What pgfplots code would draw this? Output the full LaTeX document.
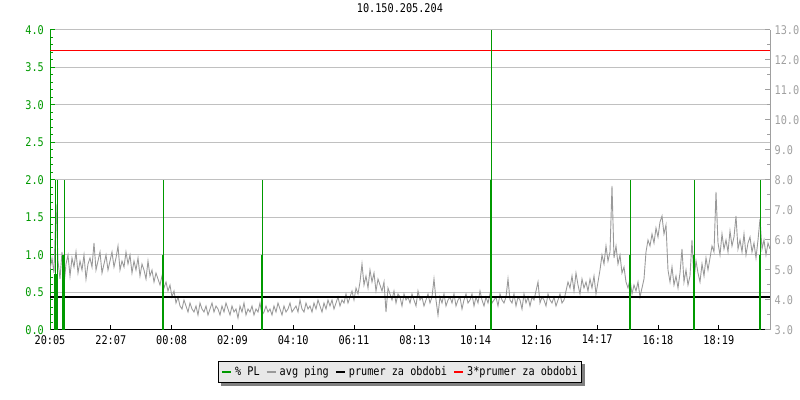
\documentclass[border=0pt]{standalone}
\usepackage{fontspec}
\setmainfont{DejaVu Sans Mono}[FakeStretch=0.85]
\usepackage{pgfplots}
\pgfplotsset{compat=1.18}
\usetikzlibrary{backgrounds}
\definecolor{plgreen}{HTML}{009900}
\definecolor{pinggray}{HTML}{999999}
\definecolor{gridgray}{HTML}{C0C0C0}
\definecolor{rgray}{HTML}{A0A0A0}
\definecolor{legfill}{HTML}{E8E8E8}

\begin{document}
\fontsize{12bp}{14bp}\selectfont
\begin{tikzpicture}
\useasboundingbox (0,0) rectangle (800bp,400bp);

\pgfplotsset{
  base/.style={at={(50bp,70bp)}, anchor=south west, width=720bp, height=300bp,
    scale only axis, xmin=0, xmax=720,
    /pgf/number format/assume math mode=true,
    major tick length=5bp, minor tick length=3bp, tick align=inside},
}

% left axis: % PL, grid, time ticks
\begin{axis}[base, ymin=0, ymax=4,
  axis x line*=bottom, axis y line*=left,
  x axis line style={-, black, line width=1bp},
  y axis line style={-, plgreen, line width=1bp},
  xtick={0,60.8,121.6,182.4,243.2,304,364.8,425.6,486.4,547.2,608,668.8},
  xticklabels={20:05,22:07,00:08,02:09,04:10,06:11,08:13,10:14,12:16,14:17,16:18,18:19},
  xtick style={black, line width=1bp},
  xticklabel style={black, yshift=-1bp},
  ytick={0,0.5,...,4}, minor y tick num=4,
  ytick style={plgreen, line width=1bp},
  yticklabel style={plgreen, xshift=-2bp},
  yticklabel={\pgfmathprintnumber[fixed,fixed zerofill,precision=1]{\tick}},
  ymajorgrids, grid style={gridgray, line width=1bp},
  title={10.150.205.204},
  title style={at={(0.486,1)}, anchor=center, yshift=16bp},
]
\end{axis}

% right axis: avg ping (ms) and its means; x in 2-minute steps from 20:05
\begin{axis}[base, ymin=3, ymax=13,
  axis x line=none, axis y line*=right,
  y axis line style={-, rgray, line width=1bp},
  ytick={3,4,...,13}, minor y tick num=1,
  ytick style={rgray, line width=1bp},
  yticklabel style={rgray, xshift=0.5bp},
  yticklabel={\pgfmathprintnumber[fixed,fixed zerofill,precision=1]{\tick}},
]
\addplot[pinggray, line width=0.9bp] coordinates {
(0,5.0) (2,5.4) (4,4.9) (6,7.2) (8,5.3) (10,4.7) (12,5.6) (14,4.5) (16,5.2) (18,5.5)
(20,4.8) (22,5.4) (24,5.1) (26,5.6) (28,4.9) (30,5.3) (32,5.0) (34,5.5) (36,4.7) (38,5.2)
(40,5.4) (42,5.1) (44,5.9) (46,5.0) (48,5.3) (50,5.6) (52,4.9) (54,5.2) (56,5.5) (58,5.0)
(60,5.3) (62,5.6) (64,5.1) (66,5.4) (68,5.8) (70,5.0) (72,5.3) (74,5.1) (76,5.6) (78,5.2)
(80,5.5) (82,4.9) (84,5.3) (86,5.0) (88,5.4) (90,4.8) (92,5.2) (94,5.0) (96,4.7) (98,5.3)
(100,4.8) (102,5.0) (104,4.6) (106,4.9) (108,4.7) (110,4.5) (112,4.8) (114,4.4) (116,4.6) (118,4.3)
(120,4.5) (122,4.1) (124,4.3) (126,3.9) (128,4.1) (130,3.8) (132,3.7) (134,4.0) (136,3.8) (138,3.6)
(140,3.9) (142,3.7) (144,3.6) (146,3.8) (148,3.5) (150,3.9) (152,3.7) (154,3.6) (156,3.8) (158,3.5)
(160,3.7) (162,3.9) (164,3.6) (166,3.8) (168,3.7) (170,3.5) (172,3.8) (174,3.6) (176,3.9) (178,3.7)
(180,3.5) (182,3.8) (184,3.6) (186,3.7) (188,3.4) (190,3.8) (192,3.6) (194,3.9) (196,3.5) (198,3.7)
(200,3.6) (202,3.8) (204,3.5) (206,3.7) (208,3.6) (210,3.9) (212,3.5) (214,3.6) (216,3.8) (218,3.6)
(220,3.7) (222,3.5) (224,3.8) (226,3.6) (228,3.9) (230,3.7) (232,3.5) (234,3.8) (236,3.6) (238,3.7)
(240,3.9) (242,3.6) (244,3.7) (246,3.8) (248,3.6) (250,4.0) (252,3.7) (254,3.6) (256,3.9) (258,3.7)
(260,3.8) (262,3.6) (264,3.9) (266,3.7) (268,4.0) (270,3.8) (272,3.6) (274,3.9) (276,3.7) (278,4.0)
(280,3.8) (282,4.0) (284,3.7) (286,3.9) (288,4.1) (290,3.8) (292,4.0) (294,3.9) (296,4.2) (298,3.9)
(300,4.1) (302,4.3) (304,4.0) (306,4.4) (308,4.2) (310,4.6) (312,5.2) (314,4.5) (316,4.8) (318,4.4)
(320,5.0) (322,4.6) (324,4.9) (326,4.3) (328,4.7) (330,4.5) (332,4.3) (334,4.6) (336,3.6) (338,4.4)
(340,4.2) (342,4.0) (344,4.3) (346,3.9) (348,4.2) (350,4.1) (352,3.8) (354,4.2) (356,4.0) (358,4.1)
(360,3.9) (362,4.2) (364,4.0) (366,3.8) (368,4.3) (370,4.0) (372,4.1) (374,3.8) (376,4.0) (378,4.2)
(380,3.9) (382,4.1) (384,4.7) (386,4.0) (388,3.5) (390,4.1) (392,3.9) (394,4.2) (396,3.8) (398,4.0)
(400,4.1) (402,3.9) (404,4.2) (406,3.8) (408,4.0) (410,4.1) (412,3.7) (414,4.0) (416,4.2) (418,3.9)
(420,4.0) (422,4.2) (424,3.8) (426,4.1) (428,3.9) (430,4.3) (432,4.0) (434,3.8) (436,4.1) (438,3.9)
(440,4.2) (442,3.9) (444,4.0) (446,4.1) (448,3.8) (450,4.2) (452,4.0) (454,3.9) (456,4.1) (458,4.7)
(460,4.0) (462,3.9) (464,4.2) (466,3.8) (468,4.1) (470,4.0) (472,3.7) (474,4.2) (476,3.9) (478,4.1)
(480,3.8) (482,4.1) (484,4.0) (486,4.3) (488,4.6) (490,3.9) (492,4.1) (494,4.0) (496,3.8) (498,4.2)
(500,4.0) (502,3.9) (504,4.1) (506,3.8) (508,4.0) (510,4.2) (512,3.9) (514,4.0) (516,4.3) (518,4.6)
(520,4.4) (522,4.8) (524,4.3) (526,4.9) (528,4.5) (530,4.2) (532,4.7) (534,4.4) (536,4.6) (538,4.3)
(540,4.7) (542,4.4) (544,4.8) (546,4.2) (548,4.6) (550,5.0) (552,5.5) (554,5.2) (556,5.8) (558,5.3)
(560,5.6) (562,7.8) (564,5.4) (566,5.8) (568,5.2) (570,5.5) (572,4.9) (574,5.1) (576,4.6) (578,4.4)
(580,4.7) (582,4.2) (584,4.5) (586,4.3) (588,4.6) (590,4.1) (592,4.4) (594,4.7) (596,5.6) (598,6.0)
(600,5.8) (602,6.2) (604,5.9) (606,6.4) (608,6.1) (610,6.6) (612,6.8) (614,6.2) (616,6.5) (618,5.0)
(620,4.6) (622,5.1) (624,4.5) (626,4.8) (628,4.4) (630,4.9) (632,5.7) (634,4.6) (636,5.0) (638,4.5)
(640,4.8) (642,6.0) (644,4.7) (646,5.3) (648,4.9) (650,4.6) (652,5.2) (654,4.8) (656,5.4) (658,5.0)
(660,5.4) (662,5.8) (664,5.6) (666,7.6) (668,5.9) (670,5.5) (672,6.2) (674,5.7) (676,6.0) (678,5.6)
(680,6.3) (682,5.8) (684,6.1) (686,6.8) (688,5.7) (690,6.0) (692,5.6) (694,6.2) (696,5.5) (698,5.9)
(700,6.1) (702,5.6) (704,5.9) (706,5.4) (708,6.0) (710,6.7) (712,5.7) (714,6.0) (716,5.5) (718,5.9)
(720,5.7)};
\addplot[black, line width=2.2bp] coordinates {(0,4.1) (720,4.1)};
\addplot[red, line width=1bp] coordinates {(0,12.3) (720,12.3)};
\end{axis}

% packet loss spikes (%): thin = max, thick = average
\begin{axis}[base, ymin=0, ymax=4, hide axis,
  legend columns=4,
  legend style={name=leg, at={(0.486,-0.1033)}, anchor=north, fill=legfill, draw=black,
    line width=1bp, inner xsep=3bp, inner ysep=2bp,
    nodes={inner xsep=1bp, inner ysep=3bp, font=\fontsize{12bp}{14bp}\selectfont},
    /tikz/every odd column/.append style={column sep=2bp},
    /tikz/every even column/.append style={column sep=5bp}},
  legend image code/.code={\draw[#1, line width=2bp] (0bp,0bp) -- (9bp,0bp);},
]
\addplot[plgreen, line width=1bp, ycomb, forget plot] coordinates {
  (5,2) (7,2) (14,2) (113,2) (212,2) (441,4) (580,2) (644,2) (710,2)};
\addplot[plgreen, line width=2.5bp, ycomb, forget plot] coordinates {
  (5.5,0.75) (13.5,1) (113,1) (212,1) (441,2) (580,1) (644,1) (710,1)};
\addlegendimage{plgreen}
\addlegendentry{\% PL}
\addlegendimage{pinggray}
\addlegendentry{avg ping}
\addlegendimage{black}
\addlegendentry{prumer za obdobi}
\addlegendimage{red}
\addlegendentry{3*prumer za obdobi}
\end{axis}

\begin{pgfonlayer}{background}
\fill[black!50] ([xshift=3bp,yshift=-3bp]leg.south west) rectangle ([xshift=3bp,yshift=-3bp]leg.north east);
\end{pgfonlayer}
\end{tikzpicture}
\end{document}
